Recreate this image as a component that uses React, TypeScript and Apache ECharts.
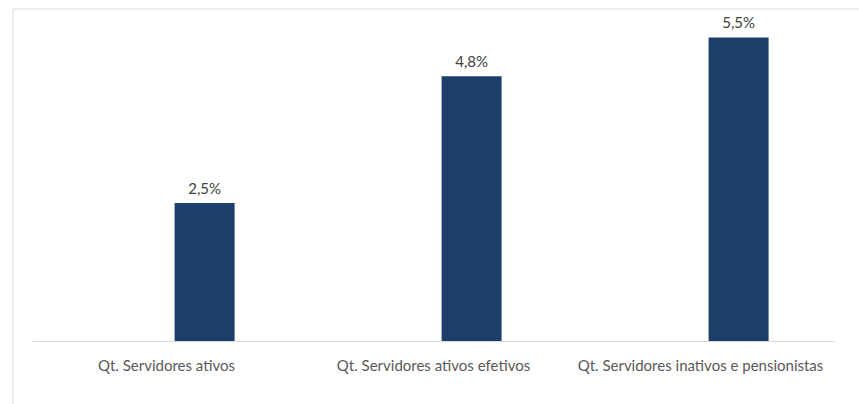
import React, { useEffect, useRef } from "react";
import * as echarts from "echarts";

const categories = [
  "Qt. Servidores ativos",
  "Qt. Servidores ativos efetivos",
  "Qt. Servidores inativos e pensionistas",
];
const emptySeries = [null, null, null];
const values = [2.5, 4.8, 5.5];

export default function App() {
  const ref = useRef<HTMLDivElement>(null);
  useEffect(() => {
    if (!ref.current) return;
    const chart = echarts.init(ref.current, undefined, { renderer: "svg" });
    chart.setOption({
      animation: false,
      backgroundColor: "#ffffff",
      grid: { left: 33, right: 25, top: 10, bottom: 63, containLabel: false },
      graphic: [
        { type: "line", shape: { x1: 13, y1: 9, x2: 859, y2: 9 }, style: { stroke: "#d9d9d9", lineWidth: 1 } },
        { type: "line", shape: { x1: 13, y1: 9, x2: 13, y2: 404 }, style: { stroke: "#d9d9d9", lineWidth: 1 } },
      ],
      xAxis: {
        type: "category",
        data: categories,
        axisLine: { lineStyle: { color: "#d9d9d9" } },
        axisTick: { show: false },
        axisLabel: {
          color: "#595959",
          fontFamily: "Lato",
          fontSize: 15,
          margin: 16,
          interval: 0,
        },
      },
      yAxis: {
        type: "value",
        min: 0,
        max: 6,
        show: false,
        splitLine: { show: false },
      },
      series: [
        {
          type: "bar",
          data: emptySeries,
          barWidth: 60,
          barGap: "27%",
          itemStyle: { color: "#1c3f6a" },
        },
        {
          type: "bar",
          data: values,
          barWidth: 60,
          barGap: "27%",
          itemStyle: { color: "#1c3f6a" },
          label: {
            show: true,
            position: "top",
            distance: 8,
            color: "#404040",
            fontFamily: "Lato",
            fontSize: 15,
            formatter: (p: any) => p.value.toFixed(1).replace(".", ",") + "%",
          },
        },
      ],
    });
    return () => chart.dispose();
  }, []);
  return (
    <div
      ref={ref}
      style={{ position: "absolute", left: 0, top: 0, width: 859, height: 404 }}
    />
  );
}
